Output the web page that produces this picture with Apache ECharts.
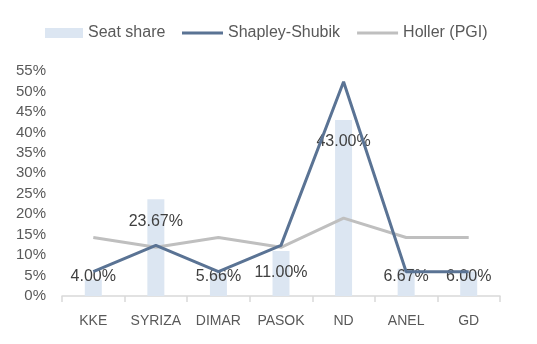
<!DOCTYPE html>
<html>
<head>
<meta charset="utf-8">
<script src="https://cdn.jsdelivr.net/npm/echarts@6/dist/echarts.min.js"></script>
<style>
html,body{margin:0;padding:0;background:#fff;}
#c{width:537px;height:344px;}
</style>
</head>
<body>
<div id="c"></div>
<script>
var categories = ['KKE', 'SYRIZA', 'DIMAR', 'PASOK', 'ND', 'ANEL', 'GD'];
var seatShare = [4.00, 23.67, 5.66, 11.00, 43.00, 6.67, 6.00];
var shapleyShubik = [5.95, 12.38, 5.95, 12.38, 52.38, 5.95, 5.95];
var hollerPGI = [14.29, 11.90, 14.29, 11.90, 19.05, 14.29, 14.29];
var yMin = 0, yMax = 55, yInterval = 5;

var FONT = "'Liberation Sans', Arial, sans-serif";
var TXT = '#595959';

var barData = seatShare.map(function (v) {
  var item = { value: v };
  if (v < 10) {
    item.label = { position: 'insideBottom', distance: 11 };
  }
  return item;
});

var legendText = { color: TXT, fontSize: 16, fontFamily: FONT };

var chart = echarts.init(document.getElementById('c'), null, { renderer: 'canvas' });
chart.setOption({
  animation: false,
  backgroundColor: '#ffffff',
  textStyle: { fontFamily: FONT },
  legend: [
    {
      left: 40,
      top: 20,
      padding: 5,
      itemWidth: 38,
      itemHeight: 10,
      itemGap: 5,
      textStyle: legendText,
      data: [{ name: 'Seat share', icon: 'rect' }]
    },
    {
      left: 177,
      top: 20,
      padding: 5,
      itemWidth: 41,
      itemHeight: 3,
      itemGap: 17,
      textStyle: legendText,
      data: [
        { name: 'Shapley-Shubik', icon: 'rect' },
        { name: 'Holler (PGI)', icon: 'rect' }
      ]
    }
  ],
  grid: { left: 62, right: 37, top: 71, bottom: 48, containLabel: false },
  xAxis: {
    type: 'category',
    data: categories,
    boundaryGap: true,
    axisLine: { show: true, lineStyle: { color: '#d9d9d9', width: 1.5 } },
    axisTick: { show: true, length: 6, lineStyle: { color: '#d9d9d9', width: 1.5 } },
    axisLabel: { color: TXT, fontSize: 14, fontFamily: FONT, margin: 18, interval: 0 }
  },
  yAxis: {
    type: 'value',
    min: yMin,
    max: yMax,
    interval: yInterval,
    axisLine: { show: false },
    axisTick: { show: false },
    splitLine: { show: false },
    axisLabel: { color: TXT, fontSize: 15, fontFamily: FONT, margin: 16, formatter: '{value}%', padding: [3, 0, 0, 0] }
  },
  series: [
    {
      name: 'Seat share',
      type: 'bar',
      data: barData,
      barWidth: 17,
      itemStyle: { color: '#dce6f2' },
      label: {
        show: true,
        position: 'insideTop',
        distance: 14,
        color: '#404040',
        fontSize: 16,
        fontFamily: FONT,
        formatter: function (p) { return p.value.toFixed(2) + '%'; }
      },
      z: 1
    },
    {
      name: 'Shapley-Shubik',
      type: 'line',
      data: shapleyShubik,
      symbol: 'none',
      lineStyle: { color: '#5a7394', width: 3 },
      itemStyle: { color: '#5a7394' },
      z: 3
    },
    {
      name: 'Holler (PGI)',
      type: 'line',
      data: hollerPGI,
      symbol: 'none',
      lineStyle: { color: '#bfbfbf', width: 3 },
      itemStyle: { color: '#bfbfbf' },
      z: 2
    }
  ]
});
</script>
</body>
</html>
